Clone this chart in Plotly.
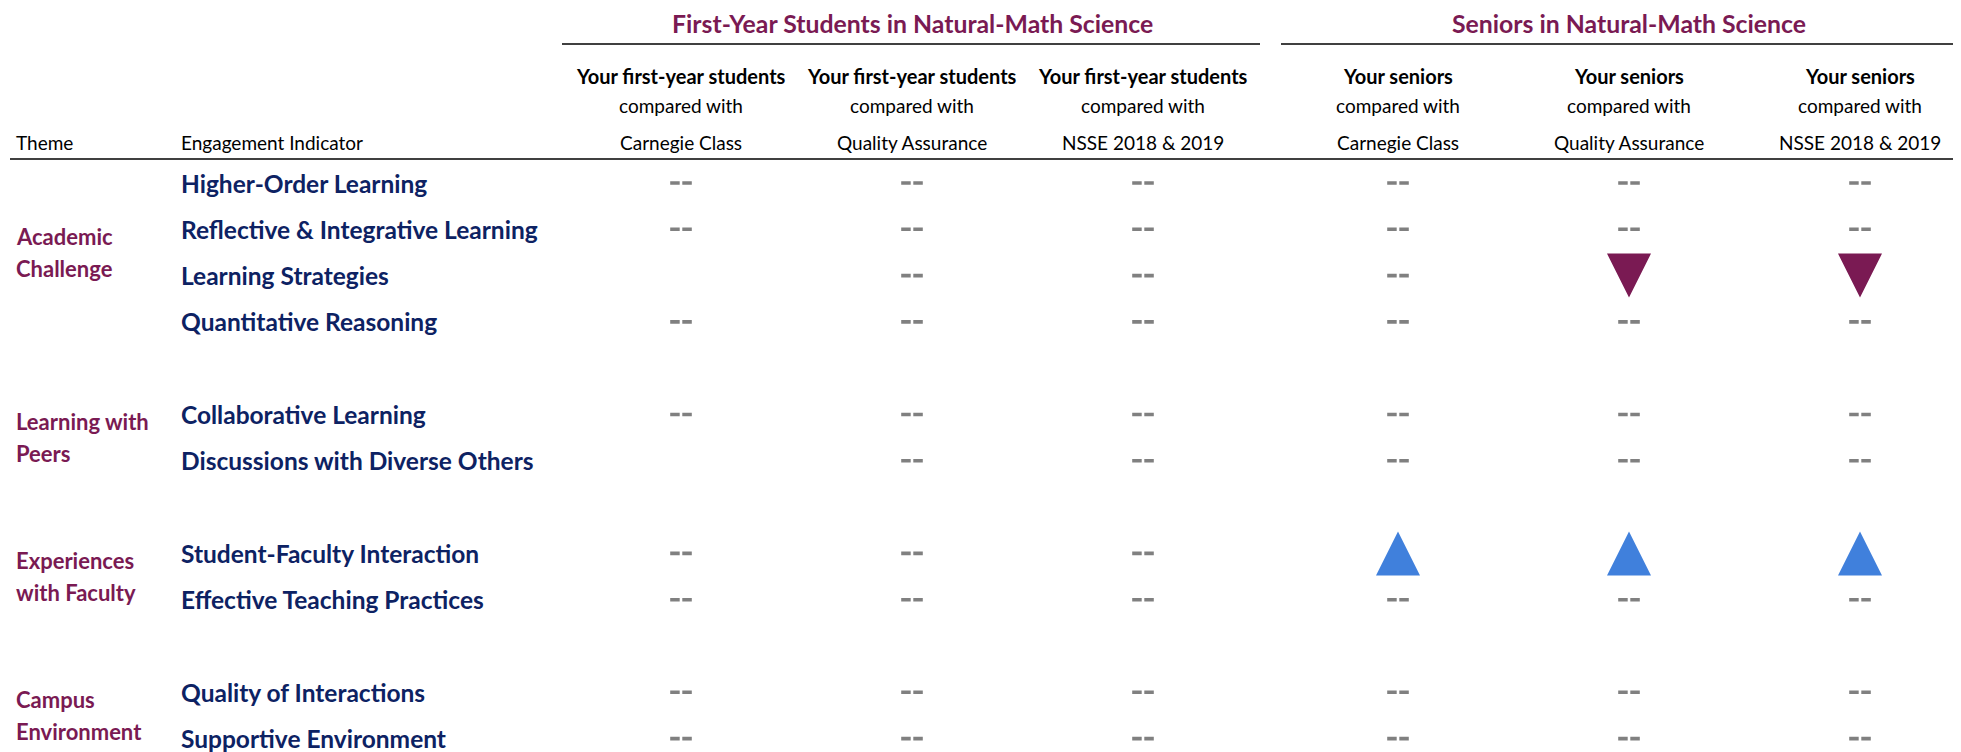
import plotly.graph_objects as go

# ---------------- data ----------------
themes = ["Academic Challenge", "Learning with Peers", "Experiences with Faculty", "Campus Environment"]
theme_lines = [["Academic", "Challenge"], ["Learning with", "Peers"], ["Experiences", "with Faculty"], ["Campus", "Environment"]]
indicators = [
    ["Higher-Order Learning", "Reflective & Integrative Learning", "Learning Strategies", "Quantitative Reasoning"],
    ["Collaborative Learning", "Discussions with Diverse Others"],
    ["Student-Faculty Interaction", "Effective Teaching Practices"],
    ["Quality of Interactions", "Supportive Environment"],
]
groups = ["First-Year Students in Natural-Math Science", "Seniors in Natural-Math Science"]
col_subject = ["Your first-year students"] * 3 + ["Your seniors"] * 3
col_compare = ["Carnegie Class", "Quality Assurance", "NSSE 2018 & 2019"] * 2

# result per indicator per column: "none" = no significant difference (--),
# "up" = significantly higher, "down" = significantly lower, "" = not reported
results = [
    ["none", "none", "none", "none", "none", "none"],
    ["none", "none", "none", "none", "none", "none"],
    ["",     "none", "none", "none", "down", "down"],
    ["none", "none", "none", "none", "none", "none"],
    ["none", "none", "none", "none", "none", "none"],
    ["",     "none", "none", "none", "none", "none"],
    ["none", "none", "none", "up",   "up",   "up"],
    ["none", "none", "none", "none", "none", "none"],
    ["none", "none", "none", "none", "none", "none"],
    ["none", "none", "none", "none", "none", "none"],
]

# ---------------- layout constants (page pixel coordinates) ----------------
PAGE_W, PAGE_H = 1961, 752
BODY = 8                      # default body margin of the html page
COL_X = [681, 912, 1143, 1398, 1629, 1860]
ROW0, STEP = 183, 46.3
THEME_X, IND_X = 14, 179
MAROON = "#7A1A53"
NAVY = "#0D2263"
BLUE = "#4080DC"
GRAY = "#808080"
FONT = "Lato, 'Open Sans', sans-serif"

# slot index for each indicator row (blank slot between themes)
slots, theme_slots = [], []
s = 0
for g in indicators:
    ts = []
    for _ in g:
        slots.append(s)
        ts.append(s)
        s += 1
    theme_slots.append(ts)
    s += 1
row_y = [ROW0 + STEP * k for k in slots]

fig = go.Figure()
ann = []
shapes = []


def text(x, y, t, size, color, anchor="center"):
    ann.append(dict(x=x, y=y, text=t, showarrow=False, xref="x", yref="y",
                    font=dict(family=FONT, size=size, color=color),
                    xanchor=anchor, yanchor="middle"))


# group titles and rules
group_cols = [COL_X[0:3], COL_X[3:6]]
rule_spans = [(562, 1260), (1281, PAGE_W)]
for gname, gc, (x0, x1) in zip(groups, group_cols, rule_spans):
    text(gc[1], 23, f"<b>{gname}</b>", 24.8, MAROON)
    shapes.append(dict(type="line", x0=x0, x1=x1, y0=44, y1=44, xref="x", yref="y",
                       line=dict(color="black", width=1.5)))

# column headers
for cx, subj, comp in zip(COL_X, col_subject, col_compare):
    text(cx, 76, f"<b>{subj}</b>", 20, "black")
    text(cx, 105, "compared with", 19, "black")
    text(cx, 142, comp, 19, "black")
text(THEME_X, 142, "Theme", 19, "black", "left")
text(IND_X, 142, "Engagement Indicator", 19, "black", "left")
shapes.append(dict(type="line", x0=10, x1=PAGE_W, y0=159, y1=159, xref="x", yref="y",
                   line=dict(color="black", width=1.5)))

# theme labels
for tl, ts in zip(theme_lines, theme_slots):
    cy = ROW0 + STEP * (sum(ts) / len(ts))
    for i, line in enumerate(tl):
        text(THEME_X, cy + (i - 0.5) * 32.5, f"<b>{line}</b>", 22, MAROON, "left")

# indicator labels
flat_ind = [n for g in indicators for n in g]
for name, y in zip(flat_ind, row_y):
    text(IND_X, y, f"<b>{name}</b>", 24.5, NAVY, "left")

# result marks
dash_x, dash_y = [], []
up_x, up_y, dn_x, dn_y = [], [], [], []
HW = 22
DW, DH, DG = 9.5, 3.6, 2.6   # dash width, height, gap
for y, row in zip(row_y, results):
    for cx, v in zip(COL_X, row):
        if v == "none":
            for xl in (cx - DG / 2 - DW, cx + DG / 2):
                dash_x += [xl, xl + DW, xl + DW, xl, None]
                dash_y += [y - DH / 2, y - DH / 2, y + DH / 2, y + DH / 2, None]
        elif v == "up":
            up_x += [cx - HW, cx + HW, cx, None]
            up_y += [y + HW, y + HW, y - HW, None]
        elif v == "down":
            dn_x += [cx - HW, cx + HW, cx, None]
            dn_y += [y - HW, y - HW, y + HW, None]

fig.add_trace(go.Scatter(x=dash_x, y=dash_y, mode="lines", fill="toself", fillcolor=GRAY,
                         line=dict(width=0, color=GRAY), hoverinfo="skip"))
fig.add_trace(go.Scatter(x=up_x, y=up_y, mode="lines", fill="toself", fillcolor=BLUE,
                         line=dict(width=0, color=BLUE), hoverinfo="skip"))
fig.add_trace(go.Scatter(x=dn_x, y=dn_y, mode="lines", fill="toself", fillcolor=MAROON,
                         line=dict(width=0, color=MAROON), hoverinfo="skip"))

# the figure sits inside the page's body margin, so the axes map page pixels
fig.update_layout(
    width=PAGE_W - BODY, height=PAGE_H - BODY, margin=dict(l=0, r=0, t=0, b=0, pad=0),
    paper_bgcolor="white", plot_bgcolor="white", showlegend=False,
    xaxis=dict(range=[BODY, PAGE_W], visible=False, fixedrange=True),
    yaxis=dict(range=[PAGE_H, BODY], visible=False, fixedrange=True),
    annotations=ann, shapes=shapes,
)
fig.write_html("out.html", config={"displayModeBar": False})
